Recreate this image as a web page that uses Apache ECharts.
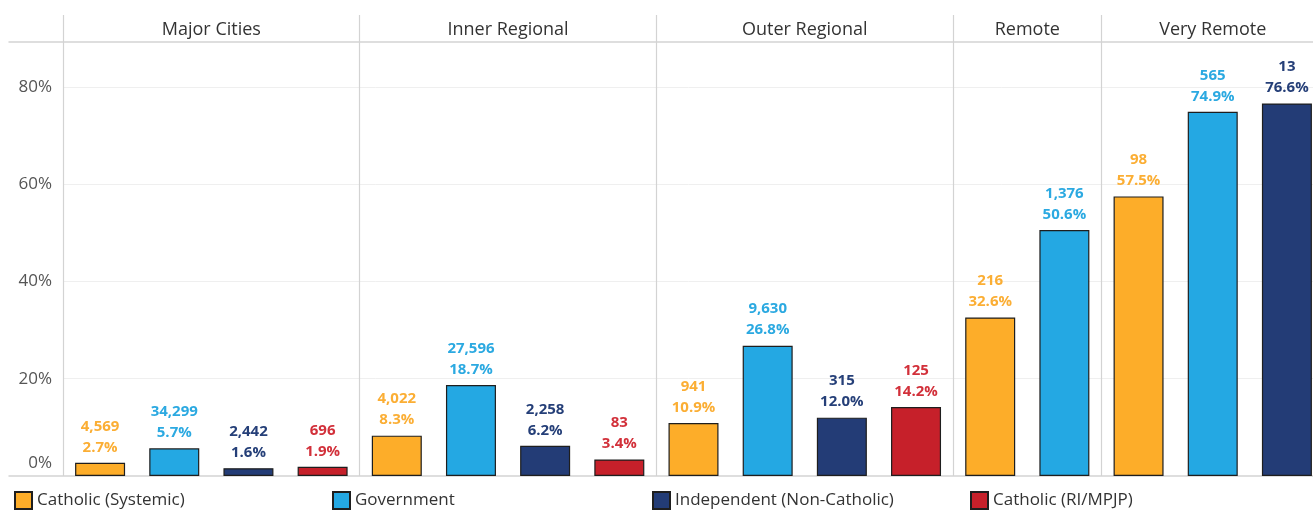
<!DOCTYPE html>
<html>
<head>
<meta charset="utf-8">
<script src="https://cdn.jsdelivr.net/npm/echarts@6/dist/echarts.min.js"></script>
<style>
html,body{margin:0;padding:0;background:#fff;}
#chart{width:1313px;height:510px;}
</style>
</head>
<body>
<div id="chart"></div>
<script>
// ---- data ----
const panels = ['Major Cities', 'Inner Regional', 'Outer Regional', 'Remote', 'Very Remote'];
const seriesNames = ['Catholic (Systemic)', 'Government', 'Independent (Non-Catholic)', 'Catholic (RI/MPJP)'];
const catholicPct   = [2.7, 8.3, 10.9, 32.6, 57.5];
const catholicCount = [4569, 4022, 941, 216, 98];
const govPct        = [5.7, 18.7, 26.8, 50.6, 74.9];
const govCount      = [34299, 27596, 9630, 1376, 565];
const indepPct      = [1.6, 6.2, 12.0, null, 76.6];
const indepCount    = [2442, 2258, 315, null, 13];
const riPct         = [1.9, 3.4, 14.2, null, null];
const riCount       = [696, 83, 125, null, null];
const yTicks = [0, 20, 40, 60, 80];

// ---- styles ----
const barColors   = ['#FDAD29', '#24A8E3', '#233C76', '#C6202A'];
const labelColors = ['#FBAE34', '#2BA9E1', '#253F78', '#D2303A'];
const FONT = 'Open Sans';

// ---- build slots ----
const pctList = [catholicPct, govPct, indepPct, riPct];
const cntList = [catholicCount, govCount, indepCount, riCount];
const slots = [];
const panelStart = [];
const panelCount = [];
panels.forEach((p, pi) => {
  panelStart.push(slots.length);
  let c = 0;
  pctList.forEach((arr, si) => {
    if (arr[pi] !== null && arr[pi] !== undefined) {
      slots.push({panel: pi, series: si, pct: arr[pi], count: cntList[si][pi]});
      c++;
    }
  });
  panelCount.push(c);
});
const categories = slots.map(s => panels[s.panel] + ' | ' + seriesNames[s.series]);
const panelCenters = panelStart.map((st, i) => st + (panelCount[i] - 1) / 2);
const startSet = new Set(panelStart);

const fmtNum = n => n.toLocaleString('en-US');

const series = seriesNames.map((name, si) => ({
  name: name,
  type: 'bar',
  xAxisIndex: 0,
  yAxisIndex: 0,
  barWidth: 50,
  barGap: '-100%',
  itemStyle: {color: barColors[si], borderColor: '#1e1e1e', borderWidth: 1.2},
  label: {
    show: true,
    position: 'top',
    distance: 5,
    color: labelColors[si],
    fontFamily: FONT,
    fontWeight: 'bold',
    fontSize: 15,
    lineHeight: 21,
    formatter: p => {
      const s = slots[p.dataIndex];
      return fmtNum(s.count) + '\n' + s.pct.toFixed(1) + '%';
    }
  },
  data: slots.map(s => s.series === si ? s.pct : null)
}));

const legends = seriesNames.map((name, i) => ({
  data: [name],
  left: [9, 327, 647, 965][i],
  top: 486,
  icon: 'rect',
  itemWidth: 17,
  itemHeight: 17,
  itemGap: 6,
  selectedMode: false,
  textStyle: {fontFamily: FONT, fontSize: 17, color: '#333'}
}));

const chart = echarts.init(document.getElementById('chart'), null, {renderer: 'canvas'});
chart.setOption({
  animation: false,
  backgroundColor: '#fff',
  legend: legends,
  grid: [
    {left: 63, width: 1261, top: 15, bottom: 34, containLabel: false, outerBoundsMode: 'none'},
    {left: 9, right: 0, top: 42, bottom: 34, containLabel: false, outerBoundsMode: 'none'}
  ],
  xAxis: [
    {
      type: 'category',
      gridIndex: 0,
      data: categories,
      position: 'bottom',
      axisLine: {show: false, onZero: false},
      axisTick: {show: false},
      axisLabel: {show: false},
      splitLine: {
        show: true,
        interval: (idx) => startSet.has(idx),
        lineStyle: {color: '#d3d3d3', width: 1.2}
      }
    },
    {
      type: 'value',
      gridIndex: 0,
      position: 'top',
      min: -0.5,
      max: slots.length - 0.5,
      interval: 0.5,
      axisLine: {show: false, onZero: false},
      axisTick: {show: false},
      splitLine: {show: false},
      axisLabel: {
        inside: true,
        margin: 6,
        fontFamily: FONT,
        fontSize: 18,
        color: '#333',
        formatter: v => {
          const k = panelCenters.findIndex(c => Math.abs(c - v) < 1e-6);
          return k >= 0 ? panels[k] : '';
        }
      }
    },
    {
      type: 'value', gridIndex: 1, position: 'top', min: 0, max: 1,
      axisLine: {show: true, onZero: false, lineStyle: {color: '#d4d4d4', width: 1.5}},
      axisTick: {show: false}, axisLabel: {show: false}, splitLine: {show: false}
    },
    {
      type: 'value', gridIndex: 1, position: 'bottom', min: 0, max: 1,
      axisLine: {show: true, onZero: false, lineStyle: {color: '#d4d4d4', width: 1.5}},
      axisTick: {show: false}, axisLabel: {show: false}, splitLine: {show: false}
    }
  ],
  yAxis: [
    {
      type: 'value',
      gridIndex: 0,
      min: 0,
      max: 94.8,
      interval: 20,
      axisLine: {show: false},
      axisTick: {show: false},
      splitLine: {show: true, showMinLine: false, showMaxLine: false, lineStyle: {color: '#efefef', width: 1}},
      axisLabel: {
        showMaxLabel: false,
        margin: 11,
        fontFamily: FONT,
        fontSize: 17,
        color: '#555',
        formatter: v => yTicks.includes(v) ? (v === 0 ? '{z|0%}' : v + '%') : '',
        rich: {z: {fontFamily: FONT, fontSize: 17, color: '#555', padding: [0, 0, 26, 0]}}
      }
    },
    {
      type: 'value', gridIndex: 1, min: 0, max: 1, show: false
    }
  ],
  series: series
});
</script>
</body>
</html>
